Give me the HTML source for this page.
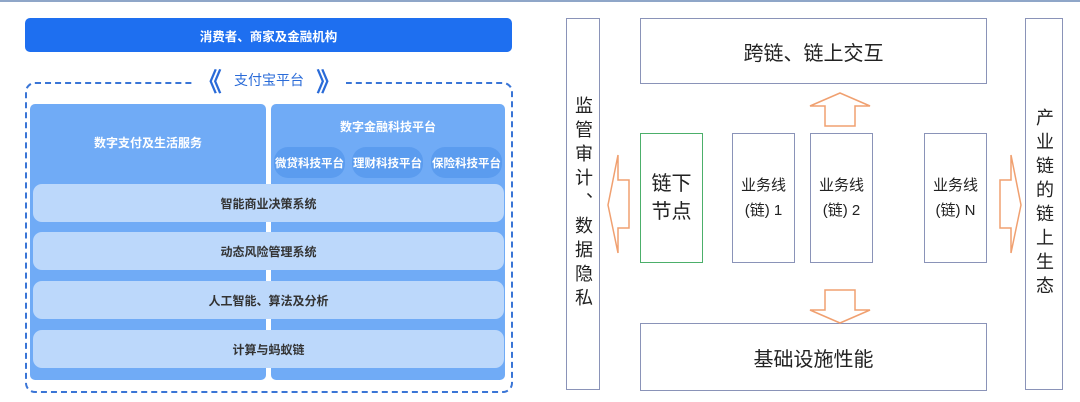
<!DOCTYPE html><html><head><meta charset="utf-8"><style>
body{margin:0;width:1080px;height:402px;background:#fff;position:relative;overflow:hidden;font-family:"Liberation Sans","Noto Sans CJK SC",sans-serif}
div{position:absolute;box-sizing:border-box}
.c{display:flex;align-items:center;justify-content:center;text-align:center}
.row{left:33px;width:471px;height:38px;background:#bcd8fb;border-radius:9px;font-size:12px;font-weight:bold;color:#333}
.pill{top:147px;height:31px;width:71px;background:#5b9cef;border-radius:14px;color:#fff;font-size:11.5px;font-weight:bold}
.bx{border:1.5px solid #8a93b8;background:#fff;color:#222}
</style></head><body>
<div style="left:0;top:0;width:1080px;height:2px;background:#8fa6c8"></div>
<div class="c" style="left:25px;top:18px;width:487px;height:34px;background:#1e6ff0;border-radius:5px;color:#fff;font-size:12.5px;font-weight:bold">消费者、商家及金融机构</div>
<div style="left:25px;top:82px;width:488px;height:311px;border:2px dashed #3a75d6;border-radius:10px"></div>
<div class="c" style="left:192px;top:64px;width:154px;height:32px;background:#fff;color:#2a6bd8;font-size:14px"><span style="font-size:26px;font-weight:bold;color:#2a6bd8;margin-right:12px">《</span>支付宝平台<span style="font-size:26px;font-weight:bold;color:#2a6bd8;margin-left:12px">》</span></div>
<div style="left:30px;top:104px;width:236px;height:276px;background:#70abf6;border-radius:5px"></div>
<div style="left:271px;top:104px;width:234px;height:276px;background:#70abf6;border-radius:5px"></div>
<div class="c" style="left:30px;top:130px;width:236px;height:24px;color:#fff;font-size:12px;font-weight:bold">数字支付及生活服务</div>
<div class="c" style="left:271px;top:116px;width:234px;height:20px;color:#fff;font-size:12px;font-weight:bold">数字金融科技平台</div>
<div class="c pill" style="left:274px">微贷科技平台</div>
<div class="c pill" style="left:352px">理财科技平台</div>
<div class="c pill" style="left:431px">保险科技平台</div>
<div class="c row" style="top:184px">智能商业决策系统</div>
<div class="c row" style="top:232px">动态风险管理系统</div>
<div class="c row" style="top:281px">人工智能、算法及分析</div>
<div class="c row" style="top:330px">计算与蚂蚁链</div>

<div class="c bx" style="left:566px;top:18px;width:34px;height:372px;font-size:18px;writing-mode:vertical-rl;letter-spacing:6px">监管审计、数据隐私</div>
<div class="c bx" style="left:1025px;top:18px;width:38px;height:372px;font-size:18px;writing-mode:vertical-rl;letter-spacing:6px">产业链的链上生态</div>
<div class="c bx" style="left:640px;top:18px;width:347px;height:66px;font-size:20px">跨链、链上交互</div>
<div class="c bx" style="left:640px;top:323px;width:347px;height:68px;font-size:20px">基础设施性能</div>
<div class="c bx" style="left:640px;top:133px;width:63px;height:130px;border-color:#4caf6a;font-size:20px;line-height:1.4">链下<br>节点</div>
<div class="c bx" style="left:732px;top:133px;width:63px;height:130px;font-size:15px;line-height:1.7">业务线<br>(链) 1</div>
<div class="c bx" style="left:810px;top:133px;width:63px;height:130px;font-size:15px;line-height:1.7">业务线<br>(链) 2</div>
<div class="c bx" style="left:924px;top:133px;width:63px;height:130px;font-size:15px;line-height:1.7">业务线<br>(链) N</div>
<svg style="position:absolute;left:0;top:0" width="1080" height="402"><g fill="#fff" stroke="#f0a070" stroke-width="1.5">
<polygon points="810,106 840,93 870,106 855,106 855,126 825,126 825,106"/>
<polygon points="810,310 840,323 870,310 855,310 855,290 825,290 825,310"/>
<polygon points="618,155 608,205 618,253 618,228 629,228 629,180 618,180"/>
<polygon points="1011,155 1021,205 1011,253 1011,228 1000,228 1000,180 1011,180"/>
</g></svg>
</body></html>
